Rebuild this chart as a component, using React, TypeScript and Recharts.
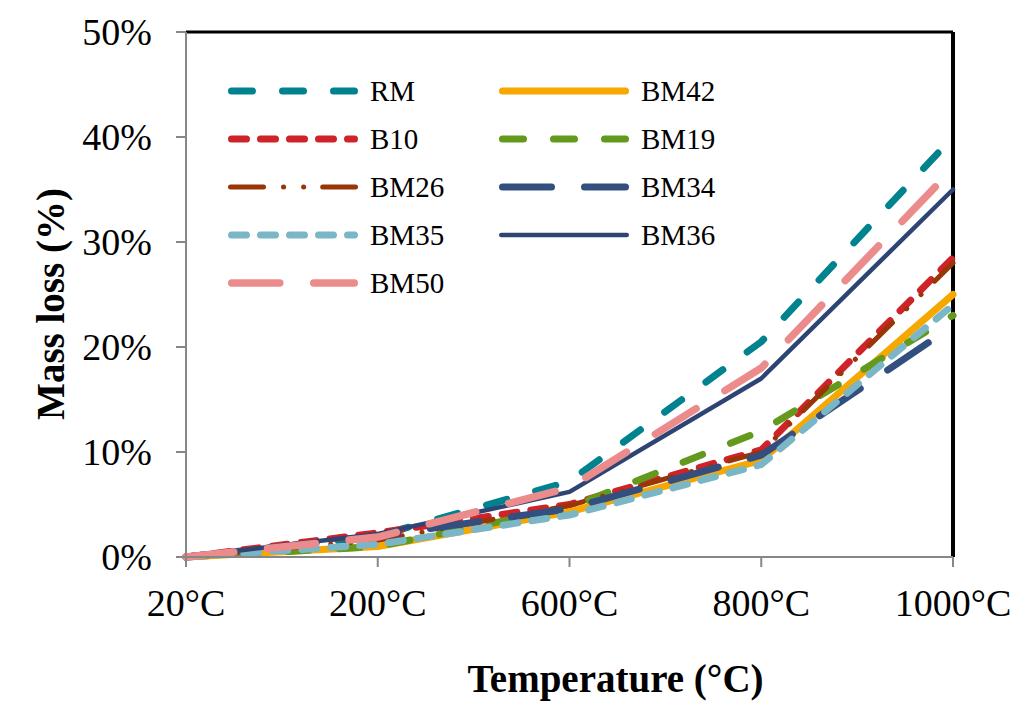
import React from "react";
import { LineChart, Line, XAxis, YAxis, ReferenceLine, Label } from "recharts";

const temperatures = ["20°C", "200°C", "600°C", "800°C", "1000°C"];

const rm = [0, 2.0, 7.2, 20.5, 40];
const bm42 = [0, 1.0, 4.3, 9.2, 25];
const b10 = [0, 2.3, 5.0, 10.2, 28.5];
const bm19 = [0, 1.0, 4.7, 12, 23];
const bm26 = [0, 1.6, 4.9, 10, 28];
const bm34 = [0, 2.0, 4.6, 9.7, 22];
const bm35 = [0, 1.2, 4.0, 8.8, 24];
const bm36 = [0, 2.2, 6.2, 17, 35];
const bm50 = [0, 1.9, 6.6, 18, 37];

const yTicks = [0, 10, 20, 30, 40, 50];

// legend order = row by row, two columns
const series = [
  { key: "RM", values: rm, color: "#00838F", width: 7, dash: "21 30" },
  { key: "BM42", values: bm42, color: "#F7A800", width: 7, dash: undefined },
  { key: "B10", values: b10, color: "#CE2328", width: 7, dash: "15 14" },
  { key: "BM19", values: bm19, color: "#63991C", width: 7, dash: "21 30" },
  { key: "BM26", values: bm26, color: "#9A3507", width: 5, dash: "33 20 0.1 20 0.1 19" },
  { key: "BM34", values: bm34, color: "#334F80", width: 7, dash: "49 33" },
  { key: "BM35", values: bm35, color: "#7BB6C6", width: 7, dash: "15 14" },
  { key: "BM36", values: bm36, color: "#2E4573", width: 4.5, dash: undefined },
  { key: "BM50", values: bm50, color: "#EC8B8B", width: 7.5, dash: "48 34" },
];

const data = temperatures.map((t, i) => {
  const row: Record<string, string | number> = { temp: t };
  series.forEach((s) => {
    row[s.key] = s.values[i];
  });
  return row;
});

const FONT = '"Liberation Serif", "Times New Roman", serif';
const AXIS_GRAY = "#878787";

function LegendBox() {
  return (
    <div
      style={{
        position: "absolute",
        left: 225,
        top: 67,
        display: "grid",
        gridTemplateColumns: "271px 271px",
        gridAutoRows: "48px",
        fontFamily: FONT,
        fontSize: 29,
        color: "#000",
      }}
    >
      {series.map((s) => (
        <div key={s.key} style={{ display: "flex", alignItems: "center", lineHeight: 1 }}>
          <svg width={136} height={20} style={{ display: "block" }}>
            <line
              x1={3 + s.width / 2}
              x2={133 - s.width / 2}
              y1={10}
              y2={10}
              stroke={s.color}
              strokeWidth={s.width}
              strokeDasharray={s.dash}
              strokeLinecap="round"
            />
          </svg>
          <span style={{ marginLeft: 9 }}>{s.key}</span>
        </div>
      ))}
    </div>
  );
}

export default function App() {
  return (
    <div
      style={{
        position: "absolute",
        left: 0,
        top: 0,
        width: 1024,
        height: 709,
        background: "#fff",
      }}
    >
      <LineChart width={1024} height={709} data={data} margin={{ top: 32, right: 71, bottom: 17, left: 0 }}>
        <XAxis
          dataKey="temp"
          interval={0}
          height={135}
          tickSize={10}
          tickMargin={22}
          axisLine={{ stroke: AXIS_GRAY, strokeWidth: 2 }}
          tickLine={{ stroke: AXIS_GRAY, strokeWidth: 2 }}
          tick={{ fill: "#000", fontSize: 38, fontFamily: FONT }}
        >
          <Label
            content={(props: any) => {
              const vb = props.viewBox || {};
              const x = (vb.x || 0) + (vb.width || 0) / 2 + 46;
              const y = (vb.y || 0) + (vb.height || 0);
              return (
                <text x={x} y={y} textAnchor="middle" fill="#000" fontSize={39} fontWeight="bold" fontFamily={FONT}>
                  Temperature (°C)
                </text>
              );
            }}
          />
        </XAxis>
        <YAxis
          width={186}
          domain={[0, 50]}
          ticks={yTicks}
          tickFormatter={(v) => `${v}%`}
          tickSize={10}
          tickMargin={24}
          axisLine={{ stroke: AXIS_GRAY, strokeWidth: 2 }}
          tickLine={{ stroke: AXIS_GRAY, strokeWidth: 2 }}
          tick={{ fill: "#000", fontSize: 38, fontFamily: FONT }}
        >
          <Label
            content={(props: any) => {
              const vb = props.viewBox || {};
              const x = (vb.x || 0) + 64;
              const y = 304;
              return (
                <text
                  x={x}
                  y={y}
                  transform={`rotate(-90 ${x} ${y})`}
                  textAnchor="middle"
                  fill="#000"
                  fontSize={39}
                  fontWeight="bold"
                  fontFamily={FONT}
                >
                  Mass loss (%)
                </text>
              );
            }}
          />
        </YAxis>
        <ReferenceLine y={50} stroke="#000" strokeWidth={3} />
        <ReferenceLine x="1000°C" stroke="#000" strokeWidth={4} />
        {series.map((s) => (
          <Line
            key={s.key}
            type="linear"
            dataKey={s.key}
            stroke={s.color}
            strokeWidth={s.width}
            strokeDasharray={s.dash}
            strokeLinecap="round"
            strokeLinejoin="round"
            dot={false}
            activeDot={false}
            isAnimationActive={false}
          />
        ))}
      </LineChart>
      <LegendBox />
    </div>
  );
}
